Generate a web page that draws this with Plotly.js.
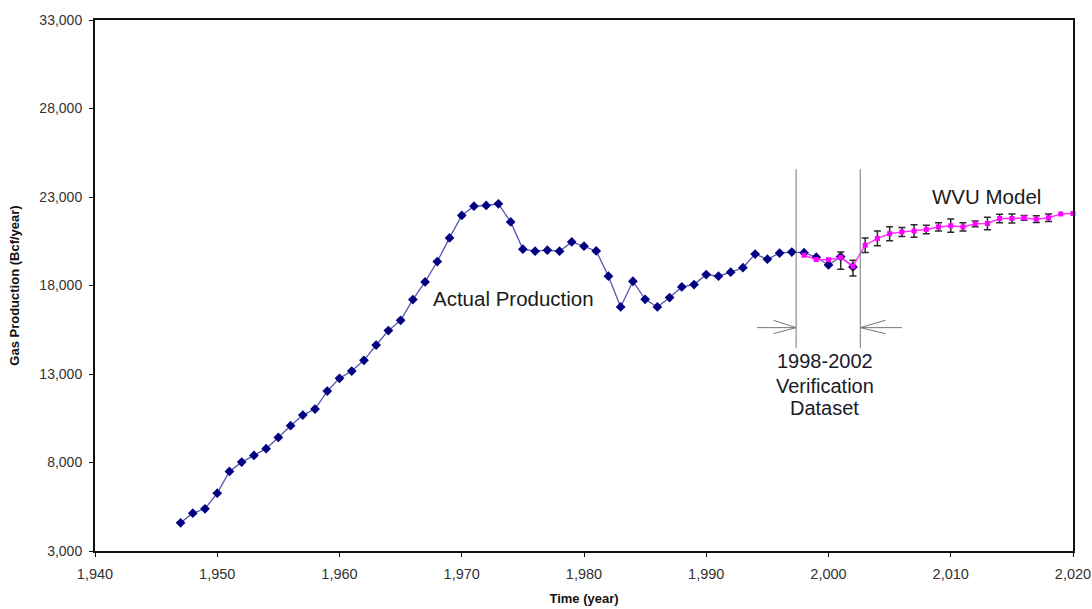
<!DOCTYPE html>
<html>
<head>
<meta charset="utf-8">
<script src="https://cdn.plot.ly/plotly-3.0.1.min.js"></script>
<style>html,body{margin:0;padding:0;background:#fff;}#chart{width:1092px;height:609px;}</style>
</head>
<body>
<div id="chart"></div>
<script>
// ---- Data ----
var actualYears = [1947,1948,1949,1950,1951,1952,1953,1954,1955,1956,1957,1958,1959,1960,
  1961,1962,1963,1964,1965,1966,1967,1968,1969,1970,1971,1972,1973,1974,1975,1976,1977,1978,
  1979,1980,1981,1982,1983,1984,1985,1986,1987,1988,1989,1990,1991,1992,1993,1994,1995,1996,
  1997,1998,1999,2000,2001,2002];
var actualProduction = [4595,5138,5386,6269,7496,8022,8401,8779,9418,10080,10680,11019,12037,12755,
  13168,13773,14638,15452,16035,17205,18201,19354,20689,21956,22481,22521,22612,21594,20050,19937,19993,19937,
  20463,20220,19954,18523,16787,18240,17222,16787,17318,17918,18054,18619,18523,18749,19004,19778,19484,19835,
  19891,19852,19597,19162,19626,19049];

var modelYears = [1998,1999,2000,2001,2002,2003,2004,2005,2006,2007,2008,2009,2010,2011,2012,
  2013,2014,2015,2016,2017,2018,2019,2020];
var modelProduction = [19711,19467,19456,19580,19089,20276,20660,20926,21028,21079,21164,21311,21379,21311,21486,
  21503,21786,21786,21820,21747,21831,22040,22069];
var modelErrPlus  = [NaN,NaN,NaN,317,339,413,415,400,255,350,235,235,375,235,160,355,245,260,140,190,215,NaN,NaN];
var modelErrMinus = [NaN,NaN,NaN,662,549,413,415,400,255,350,235,235,375,235,160,355,245,260,140,190,215,NaN,NaN];

// Verification window markers
var verifyLineYears = [1997.35, 2002.6];
var verifyLineRange = [14450, 24570];
var arrowY = 15620;
var arrowTailYears = [1994.15, 2006.0];
var arrowBarbYears = [1995.5, 2004.65];
var arrowBarbRange = [15280, 16035];

// Text labels
var verifyLabelLines = ['1998-2002', 'Verification', 'Dataset'];
var verifyLabelYs = [13716, 12320, 11058];

var xTickRange = [1940, 2020];
var yTickRange = [3000, 33000];

var labelFont = 'Liberation Sans, Arial, sans-serif';
var frameColor = '#111111';

var traces = [
  {
    x: actualYears, y: actualProduction, type: 'scatter', mode: 'lines+markers',
    name: 'Actual Production',
    line: {color: '#5656b4', width: 1.3},
    marker: {symbol: 'diamond', size: 7.5, color: '#000080'},
    cliponaxis: false
  },
  {
    x: modelYears, y: modelProduction, type: 'scatter', mode: 'lines+markers',
    name: 'WVU Model', xaxis: 'x2', yaxis: 'y2',
    line: {color: '#ff33ff', width: 1.5},
    marker: {symbol: 'square', size: 5, color: '#ff00ff'},
    error_y: {type: 'data', symmetric: false, array: modelErrPlus, arrayminus: modelErrMinus,
              color: '#2a2a2a', thickness: 1.5, width: 3.5},
    cliponaxis: false
  }
];

var shapes = [];
verifyLineYears.forEach(function (yr) {
  shapes.push({type: 'line', xref: 'x', yref: 'y', x0: yr, x1: yr, y0: verifyLineRange[0], y1: verifyLineRange[1],
               line: {color: '#777777', width: 1}});
});
// left arrow (pointing right) and right arrow (pointing left)
[0, 1].forEach(function (i) {
  var tip = verifyLineYears[i];
  shapes.push({type: 'line', xref: 'x', yref: 'y', x0: arrowTailYears[i], x1: tip, y0: arrowY, y1: arrowY,
               line: {color: '#777777', width: 1}});
  shapes.push({type: 'line', xref: 'x', yref: 'y', x0: arrowBarbYears[i], x1: tip, y0: arrowBarbRange[0], y1: arrowY,
               line: {color: '#777777', width: 1}});
  shapes.push({type: 'line', xref: 'x', yref: 'y', x0: arrowBarbYears[i], x1: tip, y0: arrowBarbRange[1], y1: arrowY,
               line: {color: '#777777', width: 1}});
});

var annotations = [
  {x: 1974.2, y: 17280, xref: 'x', yref: 'y', text: 'Actual Production', showarrow: false,
   font: {family: labelFont, size: 20.5, color: '#1a1a1a'}},
  {x: 2012.95, y: 23050, xref: 'x', yref: 'y', text: 'WVU Model', showarrow: false,
   font: {family: labelFont, size: 20.5, color: '#1a1a1a'}}
];
verifyLabelLines.forEach(function (t, i) {
  annotations.push({x: 1999.7, y: verifyLabelYs[i], xref: 'x', yref: 'y', text: t, showarrow: false,
    font: {family: labelFont, size: 20, color: '#1a1a2a'}});
});

var layout = {
  width: 1092, height: 609,
  margin: {l: 95, r: 19, t: 20, b: 58},
  paper_bgcolor: '#ffffff', plot_bgcolor: '#ffffff',
  showlegend: false,
  // frame axes: box lines on all four sides, no ticks
  xaxis: {
    range: xTickRange, showgrid: false, zeroline: false,
    showline: true, mirror: 'all', linecolor: frameColor, linewidth: 2,
    ticks: '', showticklabels: false
  },
  yaxis: {
    range: yTickRange, showgrid: false, zeroline: false,
    showline: true, mirror: 'all', linecolor: frameColor, linewidth: 2,
    ticks: '', showticklabels: false
  },
  // tick axes: ticks and labels on bottom and left only
  xaxis2: {
    range: xTickRange, overlaying: 'x', side: 'bottom', anchor: 'y2',
    dtick: 10, tick0: 1940, tickformat: ',d',
    showgrid: false, zeroline: false, showline: false,
    ticks: 'outside', ticklen: 5, tickcolor: frameColor, tickwidth: 1,
    ticklabelstandoff: 5,
    tickfont: {family: labelFont, size: 14.5, color: '#333333'},
    title: {text: 'Time (year)', font: {family: labelFont, size: 13, color: '#111111', weight: 'bold'}, standoff: 12}
  },
  yaxis2: {
    range: yTickRange, overlaying: 'y', side: 'left', anchor: 'x2',
    dtick: 5000, tick0: 3000, tickformat: ',d',
    showgrid: false, zeroline: false, showline: false,
    ticks: 'outside', ticklen: 5, tickcolor: frameColor, tickwidth: 1,
    ticklabelstandoff: 4,
    tickfont: {family: labelFont, size: 14, color: '#333333'},
    title: {text: 'Gas Production (Bcf/year)', font: {family: labelFont, size: 13, color: '#111111', weight: 'bold'}, standoff: 16}
  },
  shapes: shapes,
  annotations: annotations
};

Plotly.newPlot('chart', traces, layout, {displayModeBar: false, staticPlot: true});
</script>
</body>
</html>
